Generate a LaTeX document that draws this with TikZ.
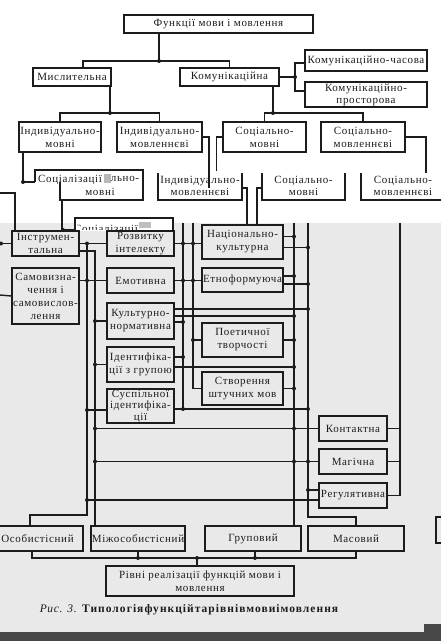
\documentclass[tikz,border=0pt]{standalone}
\usepackage{fontspec}
\setmainfont{Liberation Serif}[LetterSpace=6]
\usetikzlibrary{positioning,calc}
\definecolor{scangray}{RGB}{233,233,233}
\definecolor{ink}{RGB}{28,28,28}
\definecolor{bandgray}{RGB}{72,72,72}
\tikzset{
  fbox/.style = {rectangle, draw=ink, line width=1.6pt, align=center, inner sep=0.5pt,
    font=\fontsize{11}{13}\selectfont, text=ink},
  frame/.style = {draw=ink, line width=1.6pt},
  gtext/.style = {align=center, inner sep=0pt, font=\fontsize{11}{12.5}\selectfont, text=ink},
  link/.style = {draw=ink, line width=1.4pt},
  jdot/.style = {fill=ink}
}

\begin{document}
\begin{tikzpicture}[x=1pt, y=-1pt]
\useasboundingbox (0,0) rectangle (441,641);

% scan background
\fill[white] (0,0) rectangle (441,223);
\fill[scangray] (0,223) rectangle (441,632);
\fill[bandgray] (0,632) rectangle (441,641) (424,624) rectangle (441,632);

% functions
\node[fbox, minimum width=189pt, minimum height=18pt] (func) at (218.5,24) {Функції мови і мовлення};
\node[fbox, minimum width=78pt, minimum height=18pt] (mysl) at (72,77) {Мислительна};
\node[fbox, minimum width=99pt, minimum height=18pt] (komun) at (229.5,77) {Комунікаційна};
\node[fbox, minimum width=122pt, minimum height=21pt] (kchas) at (366,60.5) {Комунікаційно-часова};
\node[fbox, minimum width=122pt, minimum height=25pt, font=\fontsize{11}{12}\selectfont] (kpros) at (366,94.5) {Комунікаційно-\\просторова};

\node[fbox, minimum width=82pt, minimum height=30pt] (indm) at (60,137) {Індивідуально-\\мовні};
\node[fbox, minimum width=85pt, minimum height=30pt] (indml) at (159.5,137) {Індивідуально-\\мовленнєві};
\node[fbox, minimum width=83pt, minimum height=30pt] (socm) at (264.5,137) {Соціально-\\мовні};
\node[fbox, minimum width=84pt, minimum height=30pt] (socml) at (363,137) {Соціально-\\мовленнєві};

\coordinate (j1) at (159,61);
\coordinate (j2) at (110,113);
\coordinate (j3) at (273,113);
\coordinate (j4) at (295,77);
\draw[link] (func.south -| j1) -- (j1);
\draw[link] ([xshift=11pt]mysl.north) |- (j1) -| (komun.north);
\draw[link] ([xshift=38pt]mysl.south) -- (j2);
\draw[link] (indm.north) |- (j2) -| (indml.north);
\draw[link] ([xshift=43.5pt]komun.south) -- (j3);
\draw[link] (socm.north) |- (j3) -| (socml.north);
\draw[link] (komun.east) -- (j4);
\draw[link] ([yshift=-2.5pt]kchas.west) -| (j4) |- ([yshift=3.5pt]kpros.west);
\foreach \p in {j1,j2,j3,j4} \fill[jdot] (\p) circle (2pt);

% second copy of the row
\coordinate (gAin) at (35,182);
\coordinate (gAout) at (62,200);
\coordinate (gBin) at (75,230);
\draw[frame] (gAin) -- (35,170) -- (143,170) -- (143,200) -- (60,200) -- (60,182);
\begin{scope}
  \clip (36,171) rectangle (104,184);
  \node[gtext] (gAt) at (70,180) {Соціалізації};
\end{scope}
\fill[gray!55] (104,174) rectangle (111,183);
\node[gtext] (gAt2) at (125,179) {льно-};
\node[gtext] (gAt3) at (100,192) {мовні};
\draw[link] ([xshift=-37pt]indm.south) |- (gAin);
\fill[jdot] (23,182) circle (2pt);
\draw[link] (gAout) |- (gBin);
\fill[jdot] (63,230) circle (2pt);

\fill[white] (76,219) rectangle (173,231);
\draw[frame] (gBin) -- (75,218) -- (173,218) -- (173,231);
\begin{scope}
  \clip (77,219) rectangle (172,229);
  \node[gtext] (gBt) at (106,230) {Соціалізації};
\end{scope}
\fill[gray!50] (139,222) rectangle (151,228);

\draw[frame] (158,173) -- (158,200) -- (242,200) -- (242,173);
\node[gtext] (gindml) at (200,186) {Індивідуально-\\мовленнєві};
\draw[frame] (262,173) -- (262,200) -- (345,200) -- (345,173);
\node[gtext] (gsocm) at (303.5,186) {Соціально-\\мовні};
\draw[frame] (361,173) -- (361,200) -- (445,200);
\node[gtext] (gsocml) at (403,186) {Соціально-\\мовленнєві};
\draw[frame] (441,517) -- (436,517) -- (436,543) -- (441,543);

% functions of the lower part
\node[fbox, minimum width=67pt, minimum height=25pt] (instr) at (45.5,243.5) {Інструмен-\\тальна};
\node[fbox, minimum width=67pt, minimum height=56pt] (samov) at (45.5,296) {Самовизна-\\чення і\\самовислов-\\лення};

\node[fbox, minimum width=67pt, minimum height=25pt] (rozv) at (140.5,243.5) {Розвитку\\інтелекту};
\node[fbox, minimum width=67pt, minimum height=25pt] (emot) at (140.5,280.5) {Емотивна};
\node[fbox, minimum width=67pt, minimum height=36pt] (kultn) at (140.5,321) {Культурно-\\нормативна};
\node[fbox, minimum width=67pt, minimum height=35pt] (ident) at (140.5,364.5) {Ідентифіка-\\ції з групою};
\node[fbox, minimum width=67pt, minimum height=34pt, font=\fontsize{11}{11.5}\selectfont] (susp) at (140.5,406) {Суспільної\\ідентифіка-\\ції};

\node[fbox, minimum width=81pt, minimum height=34pt] (nats) at (242.5,242) {Національно-\\культурна};
\node[fbox, minimum width=81pt, minimum height=24pt] (etno) at (242.5,280) {Етноформуюча};
\node[fbox, minimum width=81pt, minimum height=34pt] (poet) at (242.5,340) {Поетичної\\творчості};
\node[fbox, minimum width=81pt, minimum height=33pt] (stvor) at (242.5,388.5) {Створення\\штучних мов};

\node[fbox, minimum width=68pt, minimum height=25pt] (kont) at (353,428.5) {Контактна};
\node[fbox, minimum width=68pt, minimum height=25pt, line width=2.2pt] (mag) at (353,461.5) {Магічна};
\node[fbox, minimum width=68pt, minimum height=25pt] (reg) at (353,495.5) {Регулятивна};

% levels
\node[fbox, minimum width=91pt, minimum height=25pt] (osob) at (37.5,538.5) {Особистісний};
\node[fbox, minimum width=94pt, minimum height=25pt] (mizh) at (138,538.5) {Міжособистісний};
\node[fbox, minimum width=96pt, minimum height=25pt] (grup) at (253,538.5) {Груповий};
\node[fbox, minimum width=96pt, minimum height=25pt] (masov) at (356,538.5) {Масовий};
\node[fbox, minimum width=188pt, minimum height=30pt] (rivni) at (200,581) {Рівні реалізації функцій мови і\\мовлення};

\node[text=ink, font=\fontsize{11.5}{13}\selectfont, inner sep=0pt] (capt) at (189.5,610)
  {\textit{Рис. 3.} \textbf{\addfontfeature{LetterSpace=9}Типологіяфункційтарівнівмовиімовлення}};

% vertical buses
\coordinate (bA) at (87,242);
\coordinate (bB) at (95,251);
\coordinate (bC) at (183,223);
\coordinate (bD) at (193,223);
\coordinate (bE) at (294,223);
\coordinate (bF) at (308,223);
\coordinate (bG) at (400,223);

\draw[link] (0,193) -| ([xshift=-30.5pt]instr.north);
\draw[link] (0,243.5) -- (instr.west);
\fill[jdot] (1,243.5) circle (2pt);
\draw[link] (0,295) -- (samov.west);

\draw[link] (bA) -- (87,515) -| ([xshift=-7.5pt]osob.north);
\draw[link] (instr.east |- bB) -| (mizh.north -| bB);
\draw[link] (bC) -- (183,409);
\draw[link] (bD) |- (stvor.west);
\draw[link] (bE) -- (bE |- grup.north);
\draw[link] (bF) -- (308,517) -| (masov.north);
\draw[link] (bG) |- (reg.east);

% to the inner boxes
\draw[link] (instr.east) -- (rozv.west);
\draw[link] (emot.west -| samov.east) -- (emot.west);
\draw[link] (kultn.west -| bB) -- (kultn.west);
\draw[link] (ident.west -| bB) -- (ident.west);
\draw[link] ([yshift=-4pt]susp.west -| bA) -- ([yshift=-4pt]susp.west);
\foreach \p in {instr.east -| bA, emot.west -| bA, kultn.west -| bB, ident.west -| bB}
  \fill[jdot] (\p) circle (2pt);
\fill[jdot] ([yshift=-4pt]susp.west -| bA) circle (2pt);

\draw[link] (rozv.east) -- (rozv.east -| nats.west);
\draw[link] (emot.east) -- (emot.east -| etno.west);
\draw[link] (poet.west -| bD) -- (poet.west);
\foreach \p in {rozv.east -| bC, rozv.east -| bD, emot.east -| bC, emot.east -| bD, poet.west -| bD}
  \fill[jdot] (\p) circle (2pt);

\draw[link] ([yshift=12pt]kultn.east) -- ([yshift=12pt]kultn.east -| bF);
\draw[link] ([yshift=5pt]kultn.east) -- ([yshift=5pt]kultn.east -| bE);
\draw[link] ([yshift=-1pt]kultn.east) -- ([yshift=-1pt]kultn.east -| bC);
\draw[link] ([yshift=7.5pt]ident.east) -- ([yshift=7.5pt]ident.east -| bC);
\draw[link] ([yshift=-2.5pt]ident.east) -- ([yshift=-2.5pt]ident.east -| bE);
\draw[link] ([yshift=-3pt]susp.east) -- ([yshift=-3pt]susp.east -| bF);
\fill[jdot] ([yshift=12pt]kultn.east -| bF) circle (2pt);
\fill[jdot] ([yshift=5pt]kultn.east -| bE) circle (2pt);
\fill[jdot] ([yshift=-1pt]kultn.east -| bC) circle (2pt);
\fill[jdot] ([yshift=7.5pt]ident.east -| bC) circle (2pt);
\fill[jdot] ([yshift=-2.5pt]ident.east -| bE) circle (2pt);
\fill[jdot] ([yshift=-3pt]susp.east -| bC) circle (2pt);
\fill[jdot] ([yshift=-3pt]susp.east -| bF) circle (2pt);

\draw[link] ([yshift=5.5pt]nats.east) -- ([yshift=5.5pt]nats.east -| bE);
\draw[link] ([yshift=-5.5pt]nats.east) -- ([yshift=-5.5pt]nats.east -| bF);
\draw[link] ([yshift=4pt]etno.east) -- ([yshift=4pt]etno.east -| bE);
\draw[link] ([yshift=-4pt]etno.east) -- ([yshift=-4pt]etno.east -| bF);
\draw[link] (poet.east) -- (poet.east -| bE);
\draw[link] (stvor.east) -- (stvor.east -| bE);
\fill[jdot] ([yshift=5.5pt]nats.east -| bE) circle (2pt);
\fill[jdot] ([yshift=-5.5pt]nats.east -| bF) circle (2pt);
\fill[jdot] ([yshift=4pt]etno.east -| bE) circle (2pt);
\fill[jdot] ([yshift=-4pt]etno.east -| bF) circle (2pt);
\fill[jdot] (poet.east -| bE) circle (2pt);
\fill[jdot] (stvor.east -| bE) circle (2pt);

% from the upper row
\draw[link] (indml.east) -- ++(6,0) -- ++(0,51);
\draw[link] (242,188) -| ([xshift=4.5pt]nats.north);
\draw[link] (socm.west) -- ++(-6,0) -- ++(0,34);
\draw[link] (262,188) -| ([xshift=14.5pt]nats.north);
\draw[link] (socml.east) -- ++(20,0) -- ++(0,36);

% right column
\draw[link] (kont.west -| bB) -- (kont.west);
\draw[link] (mag.west -| bB) -- (mag.west);
\draw[link] ([yshift=5.5pt]reg.west -| bF) -- ([yshift=5.5pt]reg.west);
\draw[link] ([yshift=-4.5pt]reg.west -| bA) -- ([yshift=-4.5pt]reg.west);
\draw[link] (kont.east) -- (kont.east -| bG);
\draw[link] (mag.east) -- (mag.east -| bG);
\foreach \p in {kont.west -| bB, kont.west -| bE, mag.west -| bB, mag.west -| bE, mag.west -| bF}
  \fill[jdot] (\p) circle (2pt);
\fill[jdot] ([yshift=5.5pt]reg.west -| bF) circle (2pt);
\fill[jdot] ([yshift=-4.5pt]reg.west -| bA) circle (2pt);

% levels
\coordinate (jb) at (197,558);
\draw[link] ([xshift=-5.5pt]osob.south) |- (masov.south |- jb) -- (masov.south);
\draw[link] (mizh.south) -- (mizh.south |- jb);
\draw[link] ([xshift=2pt]grup.south) -- ([xshift=2pt]grup.south |- jb);
\draw[link] (jb) -- (jb |- rivni.north);
\fill[jdot] (mizh.south |- jb) circle (2pt);
\fill[jdot] ([xshift=2pt]grup.south |- jb) circle (2pt);
\fill[jdot] (jb) circle (2pt);

\end{tikzpicture}
\end{document}
